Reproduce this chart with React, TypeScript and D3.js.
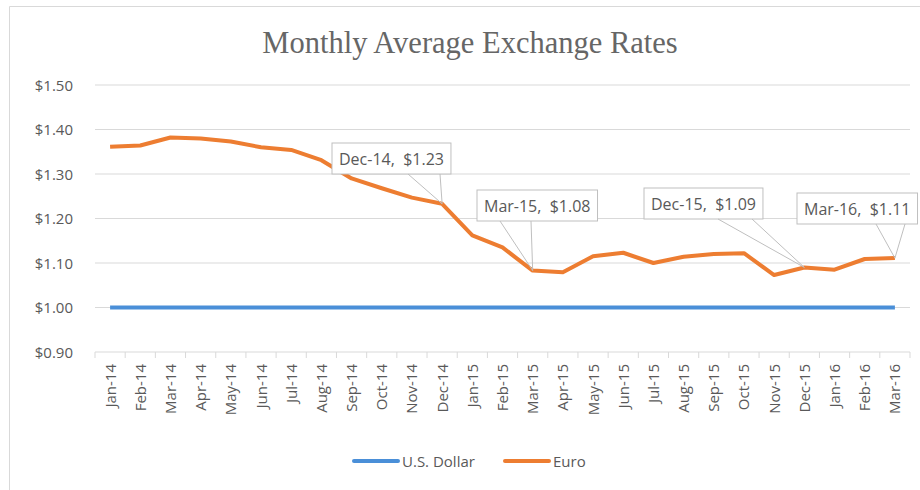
import React, { useEffect, useRef } from "react";
import * as d3 from "d3";

const months = [
  "Jan-14", "Feb-14", "Mar-14", "Apr-14", "May-14", "Jun-14", "Jul-14", "Aug-14", "Sep-14",
  "Oct-14", "Nov-14", "Dec-14", "Jan-15", "Feb-15", "Mar-15", "Apr-15", "May-15", "Jun-15",
  "Jul-15", "Aug-15", "Sep-15", "Oct-15", "Nov-15", "Dec-15", "Jan-16", "Feb-16", "Mar-16",
];
const usd = months.map(() => 1.0);
const euro = [
  1.361, 1.364, 1.382, 1.380, 1.373, 1.360, 1.354, 1.331, 1.290, 1.268, 1.247, 1.233,
  1.162, 1.135, 1.083, 1.079, 1.115, 1.123, 1.100, 1.114, 1.120, 1.122, 1.073, 1.090,
  1.085, 1.109, 1.111,
];
const yTicks = [0.9, 1.0, 1.1, 1.2, 1.3, 1.4, 1.5];
// callouts: month index, box left/top in px
const callouts = [
  { i: 11, label: "Dec-14,  $1.23", bx: 332, by: 143, px: [408, 440] },
  { i: 14, label: "Mar-15,  $1.08", bx: 477, by: 190, px: [500, 531] },
  { i: 23, label: "Dec-15,  $1.09", bx: 644, by: 188, px: [718, 752] },
  { i: 26, label: "Mar-16,  $1.11", bx: 797, by: 193, px: [876, 905] },
];

const W = 920;
const H = 490;
const font = "'Open Sans', 'Liberation Sans', sans-serif";
const gray = "#595959";

const App = () => {
  const ref = useRef<SVGSVGElement | null>(null);

  useEffect(() => {
    const svg = d3.select(ref.current);
    svg.selectAll("*").remove();

    const x = d3.scaleBand().domain(months).range([95, 910]);
    const y = d3.scaleLinear().domain([0.9, 1.5]).range([352, 85]);
    const cx = (m: string) => (x(m) as number) + x.bandwidth() / 2;

    // frame
    svg.append("rect").attr("width", W).attr("height", H).attr("fill", "#fff");
    svg.append("path").attr("d", `M9.5,${H} V6.5 H${W}`).attr("fill", "none").attr("stroke", "#d9d9d9");

    // title
    svg.append("text")
      .attr("x", 470).attr("y", 53)
      .attr("text-anchor", "middle")
      .attr("font-family", "'Liberation Serif', 'DejaVu Serif', serif")
      .attr("font-size", 30.5)
      .attr("fill", "#666")
      .text("Monthly Average Exchange Rates");

    // gridlines
    svg.append("g").selectAll("line").data(yTicks.slice(1)).enter().append("line")
      .attr("x1", 95).attr("x2", 910)
      .attr("y1", (d) => y(d)).attr("y2", (d) => y(d))
      .attr("stroke", "#d9d9d9").attr("stroke-width", 1);

    // y labels
    svg.append("g").selectAll("text").data(yTicks).enter().append("text")
      .attr("x", 73).attr("y", (d) => y(d) + 5.5)
      .attr("text-anchor", "end")
      .attr("font-family", font).attr("font-size", 15).attr("fill", gray)
      .text((d) => d3.format("$.2f")(d));

    // x axis
    const xAxis = svg.append("g").attr("transform", `translate(0,${y(0.9)})`);
    xAxis.append("line").attr("x1", 95).attr("x2", 910).attr("stroke", "#d9d9d9");
    xAxis.selectAll("line.tick").data(months.concat(["end"])).enter().append("line")
      .attr("class", "tick")
      .attr("x1", (_, i) => 95 + i * x.bandwidth()).attr("x2", (_, i) => 95 + i * x.bandwidth())
      .attr("y1", 0).attr("y2", 6).attr("stroke", "#d9d9d9");
    xAxis.selectAll("text").data(months).enter().append("text")
      .attr("transform", (d) => `translate(${cx(d) + 5.5},12) rotate(-90)`)
      .attr("text-anchor", "end")
      .attr("font-family", font).attr("font-size", 15).attr("fill", gray)
      .text((d) => d);

    const line = d3.line<number>().x((_, i) => cx(months[i])).y((d) => y(d));

    svg.append("path").datum(usd).attr("d", line)
      .attr("fill", "none").attr("stroke", "#4a8fd8").attr("stroke-width", 4);
    svg.append("path").datum(euro).attr("d", line)
      .attr("fill", "none").attr("stroke", "#ed7d31").attr("stroke-width", 4)
      .attr("stroke-linejoin", "round");

    // callouts
    callouts.forEach((c) => {
      const g = svg.append("g");
      const tx = cx(months[c.i]);
      const ty = y(euro[c.i]);
      const t = g.append("text")
        .attr("x", c.bx + 7).attr("y", c.by + 22)
        .attr("font-family", font).attr("font-size", 16).attr("fill", gray)
        .style("white-space", "pre")
        .text(c.label);
      const w = (t.node() as SVGTextElement).getComputedTextLength() + 14;
      const bh = 31;
      g.insert("rect", "text")
        .attr("x", c.bx).attr("y", c.by).attr("width", w).attr("height", bh)
        .attr("fill", "#fff").attr("stroke", "#bfbfbf");
      g.append("path")
        .attr("d", `M${c.px[0]},${c.by + bh} L${tx},${ty} L${c.px[1]},${c.by + bh}`)
        .attr("fill", "none").attr("stroke", "#bfbfbf");
    });

    // legend
    const legend = [
      { name: "U.S. Dollar", color: "#4a8fd8", x0: 354 },
      { name: "Euro", color: "#ed7d31", x0: 505 },
    ];
    legend.forEach((l) => {
      svg.append("line").attr("x1", l.x0).attr("x2", l.x0 + 44).attr("y1", 461).attr("y2", 461)
        .attr("stroke", l.color).attr("stroke-width", 4).attr("stroke-linecap", "round");
      svg.append("text").attr("x", l.x0 + 48).attr("y", 467)
        .attr("font-family", font).attr("font-size", 15).attr("fill", gray)
        .text(l.name);
    });
  }, []);

  return (
    <svg
      ref={ref}
      width={W}
      height={H}
      style={{ position: "absolute", left: 0, top: 0, display: "block" }}
    />
  );
};

export default App;
